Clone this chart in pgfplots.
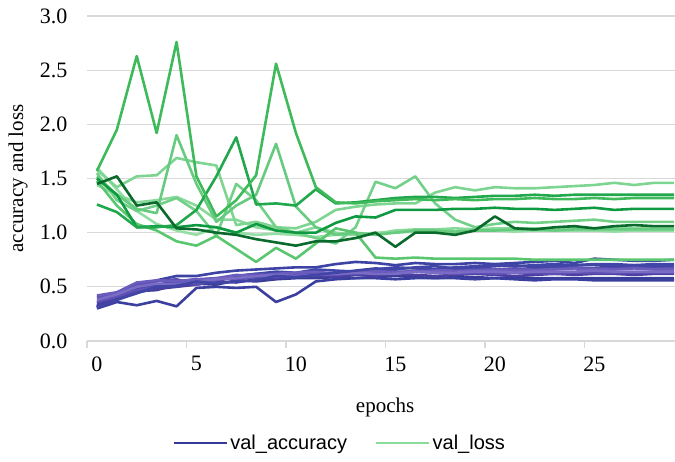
\documentclass[border=0pt]{standalone}
\usepackage{pgfplots}
\pgfplotsset{compat=1.18}
\usepackage{fontspec}
\setmainfont{Liberation Serif}
\newfontfamily\legfont{Liberation Sans}
\definecolor{gridc}{HTML}{D9D9D9}
\definecolor{ga}{HTML}{0A6A2C}
\definecolor{gb}{HTML}{0F9A41}
\definecolor{gc}{HTML}{22A84C}
\definecolor{gd}{HTML}{3FBA5A}
\definecolor{ge}{HTML}{5AC66F}
\definecolor{gf}{HTML}{66CB7E}
\definecolor{gg}{HTML}{72D089}
\definecolor{gh}{HTML}{7ED591}
\definecolor{gi}{HTML}{88D99A}
\definecolor{gj}{HTML}{93DEA4}
\definecolor{ba}{HTML}{383C98}
\definecolor{bb}{HTML}{3B3FA0}
\definecolor{bc}{HTML}{3D42A5}
\definecolor{bd}{HTML}{4146AA}
\definecolor{be}{HTML}{4A3FA0}
\definecolor{bf}{HTML}{5A50B2}
\definecolor{bg}{HTML}{5E4FB5}
\definecolor{bh}{HTML}{6A5CBD}
\definecolor{bi}{HTML}{7A6CC4}
\definecolor{bj}{HTML}{4045A6}
\definecolor{legblue}{HTML}{363B99}
\definecolor{leggreen}{HTML}{8BDC9B}
\begin{document}
\begin{tikzpicture}
\path[use as bounding box] (-87pt,-120pt) rectangle (588pt,341pt);
\begin{axis}[
  at={(0,0)}, anchor=south west,
  scale only axis, width=588pt, height=325pt,
  xmin=-0.5, xmax=29.05, ymin=0, ymax=3,
  axis line style={draw=none},
  xtick={0,5,...,25}, ytick={0,0.5,...,3},
  xtick pos=lower, ytick pos=left,
  major tick length=0pt,
  minor xtick={-0.5,4.5,9.5,14.5,19.5,24.5},
  minor tick length=7pt, tick align=outside,
  minor tick style={draw=gridc, line width=1.2pt},
  ymajorgrids, grid style={draw=gridc, line width=1.2pt},
  /pgf/number format/assume math mode=true,
  yticklabel style={/pgf/number format/fixed, /pgf/number format/fixed zerofill,
     /pgf/number format/precision=1, xshift=-16pt},
  ticklabel style={font=\fontsize{22}{26}\selectfont},
  xticklabel style={yshift=-12pt},
  xlabel={epochs}, ylabel={accuracy and loss},
  label style={font=\fontsize{21}{25}\selectfont},
  xlabel style={at={(axis description cs:0.507,-0.203)}, anchor=center},
  ylabel style={at={(axis description cs:-0.1173,0.5)}, anchor=center, rotate=0},
  legend style={at={(axis description cs:0.43,-0.314)}, anchor=center,
     draw=none, fill=none, legend columns=2,
     font=\legfont\fontsize{20}{24}\selectfont,
     /tikz/every even column/.append style={column sep=26pt}},
  legend image code/.code={\draw[#1] (0pt,0pt) -- (53pt,0pt);},
  every axis plot/.append style={line width=2.6pt, line join=round},
  clip=false,
]
\addlegendimage{legblue, line width=2.6pt}
\addlegendentry{val\_accuracy}
\addlegendimage{leggreen, line width=2.6pt}
\addlegendentry{val\_loss}

% val_accuracy
\addplot[ba, forget plot] table[x expr=\coordindex, y index=0, header=false, row sep=\\] {0.35\\0.40\\0.46\\0.47\\0.52\\0.53\\0.52\\0.56\\0.55\\0.57\\0.58\\0.58\\0.59\\0.58\\0.59\\0.60\\0.59\\0.58\\0.59\\0.59\\0.58\\0.59\\0.58\\0.58\\0.58\\0.58\\0.58\\0.58\\0.58\\0.58\\};
\addplot[bb, forget plot] table[x expr=\coordindex, y index=0, header=false, row sep=\\] {0.30\\0.36\\0.33\\0.37\\0.32\\0.49\\0.50\\0.49\\0.50\\0.36\\0.43\\0.55\\0.57\\0.58\\0.58\\0.57\\0.58\\0.58\\0.58\\0.57\\0.58\\0.57\\0.56\\0.57\\0.57\\0.56\\0.56\\0.56\\0.56\\0.56\\};
\addplot[bc, forget plot] table[x expr=\coordindex, y index=0, header=false, row sep=\\] {0.32\\0.42\\0.50\\0.56\\0.60\\0.60\\0.63\\0.65\\0.66\\0.67\\0.68\\0.68\\0.71\\0.73\\0.72\\0.70\\0.72\\0.71\\0.71\\0.72\\0.71\\0.72\\0.73\\0.74\\0.72\\0.76\\0.75\\0.74\\0.74\\0.75\\};
\addplot[bd, forget plot] table[x expr=\coordindex, y index=0, header=false, row sep=\\] {0.31\\0.40\\0.48\\0.52\\0.55\\0.57\\0.55\\0.60\\0.62\\0.64\\0.63\\0.66\\0.65\\0.64\\0.66\\0.68\\0.67\\0.66\\0.68\\0.69\\0.70\\0.69\\0.70\\0.71\\0.70\\0.71\\0.71\\0.70\\0.71\\0.71\\};
\addplot[be, forget plot] table[x expr=\coordindex, y index=0, header=false, row sep=\\] {0.33\\0.38\\0.45\\0.48\\0.50\\0.52\\0.55\\0.54\\0.57\\0.58\\0.59\\0.60\\0.59\\0.61\\0.60\\0.62\\0.61\\0.60\\0.61\\0.62\\0.61\\0.60\\0.61\\0.62\\0.61\\0.62\\0.62\\0.61\\0.62\\0.62\\};
\addplot[bf, forget plot] table[x expr=\coordindex, y index=0, header=false, row sep=\\] {0.40\\0.44\\0.52\\0.55\\0.57\\0.52\\0.56\\0.60\\0.62\\0.60\\0.61\\0.62\\0.63\\0.62\\0.64\\0.63\\0.65\\0.64\\0.65\\0.66\\0.66\\0.67\\0.66\\0.67\\0.68\\0.67\\0.68\\0.68\\0.68\\0.68\\};
\addplot[bg, forget plot] table[x expr=\coordindex, y index=0, header=false, row sep=\\] {0.36\\0.41\\0.47\\0.50\\0.54\\0.56\\0.58\\0.57\\0.59\\0.59\\0.61\\0.62\\0.61\\0.63\\0.62\\0.63\\0.64\\0.63\\0.62\\0.63\\0.62\\0.63\\0.63\\0.62\\0.63\\0.63\\0.63\\0.63\\0.63\\0.63\\};
\addplot[bh, forget plot] table[x expr=\coordindex, y index=0, header=false, row sep=\\] {0.42\\0.45\\0.54\\0.56\\0.55\\0.57\\0.58\\0.61\\0.60\\0.62\\0.63\\0.64\\0.62\\0.63\\0.65\\0.64\\0.64\\0.65\\0.66\\0.65\\0.66\\0.65\\0.66\\0.66\\0.67\\0.66\\0.66\\0.67\\0.66\\0.66\\};
\addplot[bi, forget plot] table[x expr=\coordindex, y index=0, header=false, row sep=\\] {0.38\\0.43\\0.50\\0.53\\0.52\\0.55\\0.57\\0.58\\0.60\\0.61\\0.60\\0.61\\0.62\\0.63\\0.62\\0.62\\0.64\\0.63\\0.63\\0.64\\0.64\\0.63\\0.64\\0.64\\0.64\\0.65\\0.64\\0.64\\0.64\\0.64\\};
\addplot[bj, forget plot] table[x expr=\coordindex, y index=0, header=false, row sep=\\] {0.31\\0.38\\0.44\\0.50\\0.51\\0.55\\0.53\\0.55\\0.56\\0.60\\0.59\\0.61\\0.63\\0.65\\0.67\\0.66\\0.68\\0.69\\0.67\\0.68\\0.69\\0.70\\0.68\\0.69\\0.70\\0.70\\0.69\\0.70\\0.69\\0.70\\};

% val_loss
\addplot[gj, forget plot] table[x expr=\coordindex, y index=0, header=false, row sep=\\] {1.60\\1.40\\1.20\\1.08\\1.02\\0.98\\1.05\\1.00\\0.98\\0.99\\0.98\\0.96\\0.98\\0.98\\1.00\\1.00\\1.01\\1.02\\1.00\\1.02\\1.02\\1.01\\1.02\\1.02\\1.02\\1.02\\1.01\\1.02\\1.02\\1.02\\};
\addplot[gi, forget plot] table[x expr=\coordindex, y index=0, header=false, row sep=\\] {1.44\\1.35\\1.28\\1.30\\1.33\\1.25\\1.12\\1.12\\1.05\\1.02\\1.00\\1.05\\1.00\\0.98\\0.99\\1.02\\1.03\\1.03\\1.04\\1.03\\1.04\\1.04\\1.04\\1.04\\1.04\\1.04\\1.04\\1.04\\1.04\\1.04\\};
\addplot[gh, forget plot] table[x expr=\coordindex, y index=0, header=false, row sep=\\] {1.58\\1.42\\1.52\\1.53\\1.69\\1.65\\1.62\\1.07\\1.10\\1.05\\1.04\\1.10\\1.21\\1.24\\1.26\\1.27\\1.27\\1.37\\1.42\\1.39\\1.42\\1.41\\1.41\\1.42\\1.43\\1.44\\1.46\\1.44\\1.46\\1.46\\};
\addplot[gg, forget plot] table[x expr=\coordindex, y index=0, header=false, row sep=\\] {1.55\\1.30\\1.20\\1.25\\1.32\\1.20\\0.97\\1.45\\1.30\\1.05\\1.00\\0.95\\0.90\\1.05\\1.47\\1.41\\1.52\\1.27\\1.12\\1.05\\1.08\\1.10\\1.09\\1.10\\1.11\\1.12\\1.10\\1.10\\1.10\\1.10\\};
\addplot[gf, forget plot] table[x expr=\coordindex, y index=0, header=false, row sep=\\] {1.52\\1.35\\1.22\\1.18\\1.90\\1.45\\1.10\\1.25\\1.35\\1.82\\1.24\\1.05\\0.98\\1.00\\0.98\\1.00\\1.02\\1.02\\1.01\\1.02\\1.02\\1.03\\1.03\\1.02\\1.03\\1.03\\1.03\\1.03\\1.03\\1.03\\};
\addplot[ge, forget plot] table[x expr=\coordindex, y index=0, header=false, row sep=\\] {1.48\\1.25\\1.08\\1.02\\0.92\\0.88\\0.97\\0.85\\0.73\\0.86\\0.76\\0.90\\1.04\\1.00\\0.77\\0.76\\0.77\\0.76\\0.76\\0.76\\0.76\\0.76\\0.75\\0.75\\0.75\\0.75\\0.75\\0.75\\0.75\\0.75\\};
\addplot[gb, forget plot] table[x expr=\coordindex, y index=0, header=false, row sep=\\] {1.50\\1.35\\1.05\\1.06\\1.05\\1.07\\1.05\\1.00\\1.08\\1.02\\1.00\\1.00\\1.09\\1.15\\1.14\\1.21\\1.21\\1.21\\1.22\\1.22\\1.23\\1.22\\1.22\\1.21\\1.22\\1.23\\1.21\\1.22\\1.22\\1.22\\};
\addplot[gc, forget plot] table[x expr=\coordindex, y index=0, header=false, row sep=\\] {1.26\\1.19\\1.05\\1.05\\1.07\\1.21\\1.52\\1.88\\1.26\\1.27\\1.25\\1.40\\1.27\\1.28\\1.30\\1.32\\1.33\\1.33\\1.32\\1.33\\1.34\\1.34\\1.35\\1.34\\1.35\\1.35\\1.35\\1.35\\1.35\\1.35\\};
\addplot[ga, forget plot] table[x expr=\coordindex, y index=0, header=false, row sep=\\] {1.45\\1.52\\1.25\\1.28\\1.04\\1.03\\1.00\\0.98\\0.94\\0.91\\0.88\\0.92\\0.92\\0.95\\1.00\\0.87\\1.00\\1.00\\0.98\\1.02\\1.15\\1.04\\1.03\\1.05\\1.06\\1.04\\1.06\\1.07\\1.06\\1.06\\};
\addplot[gd, forget plot] table[x expr=\coordindex, y index=0, header=false, row sep=\\] {1.57\\1.95\\2.63\\1.92\\2.76\\1.52\\1.15\\1.30\\1.53\\2.56\\1.92\\1.42\\1.28\\1.27\\1.29\\1.30\\1.31\\1.30\\1.31\\1.30\\1.31\\1.31\\1.32\\1.31\\1.31\\1.32\\1.31\\1.32\\1.32\\1.32\\};
\end{axis}
\end{tikzpicture}
\end{document}
